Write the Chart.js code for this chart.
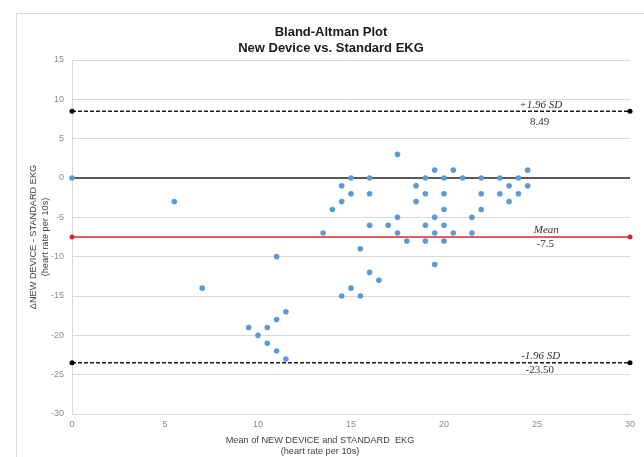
<!DOCTYPE html>
<html>
<head>
<meta charset="utf-8">
<script src="https://cdn.jsdelivr.net/npm/chart.js@4/dist/chart.umd.min.js"></script>
<style>
  html, body { margin: 0; padding: 0; background: #fff; }
  #wrap { width: 644px; height: 457px; position: relative; }
</style>
</head>
<body>
<div id="wrap"><canvas id="c" width="644" height="457"></canvas></div>
<script>
// ---- data ----
const titleLines = ["Bland-Altman Plot", "New Device vs. Standard EKG"];
const xTitleLines = ["Mean of NEW DEVICE and STANDARD  EKG", "(heart rate per 10s)"];
const yTitleLines = ["\u0394NEW DEVICE - STANDARD EKG", "(heart rate per 10s)"];

const meanValues = [
  0, 5.5, 7, 9.5, 10, 10.5, 10.5, 11, 11, 11, 11.5, 11.5,
  13.5, 14, 14.5, 14.5, 14.5, 15, 15, 15, 15.5, 15.5,
  16, 16, 16, 16, 16.5, 17, 17.5, 17.5, 17.5, 18,
  18.5, 18.5, 19, 19, 19, 19, 19.5, 19.5, 19.5, 19.5,
  20, 20, 20, 20, 20, 20.5, 20.5, 21, 21.5, 21.5,
  22, 22, 22, 23, 23, 23.5, 23.5, 24, 24, 24.5, 24.5
];
const diffValues = [
  0, -3, -14, -19, -20, -19, -21, -10, -18, -22, -17, -23,
  -7, -4, -1, -3, -15, 0, -2, -14, -9, -15,
  0, -2, -6, -12, -13, -6, 3, -5, -7, -8,
  -1, -3, 0, -2, -6, -8, 1, -5, -7, -11,
  0, -2, -4, -6, -8, 1, -7, 0, -5, -7,
  0, -2, -4, 0, -2, -1, -3, 0, -2, 1, -1
];

const meanDiff = -7.5;
const upperLoA = 8.49;
const lowerLoA = -23.50;
const lineSpan = [0, 30];

const xMin = 0, xMax = 30, xStep = 5;
const yMin = -30, yMax = 15, yStep = 5;

const refLabels = [
  { value: upperLoA, top: "+1.96 SD", bottom: "8.49" },
  { value: meanDiff, top: "Mean", bottom: "-7.5" },
  { value: lowerLoA, top: "-1.96 SD", bottom: "-23.50" }
];

// ---- build datasets ----
const scatterPts = meanValues.map((m, i) => ({ x: m, y: diffValues[i] }));
const hLine = (v) => lineSpan.map(x => ({ x: x, y: v }));

const decorPlugin = {
  id: 'decor',
  beforeDraw(chart) {
    const ctx = chart.ctx;
    ctx.save();
    ctx.fillStyle = '#ffffff';
    ctx.fillRect(0, 0, chart.width, chart.height);
    ctx.strokeStyle = '#d9d9d9';
    ctx.lineWidth = 1;
    ctx.strokeRect(16.5, 13.5, chart.width + 10, chart.height + 10);
    ctx.restore();
  },
  afterDraw(chart) {
    const ctx = chart.ctx;
    const xs = chart.scales.x, ys = chart.scales.y;
    ctx.save();
    // title
    ctx.fillStyle = '#1a1a1a';
    ctx.font = 'bold 13px "Liberation Sans", Arial, sans-serif';
    ctx.textAlign = 'center';
    ctx.textBaseline = 'middle';
    ctx.fillText(titleLines[0], 331, 32);
    ctx.fillText(titleLines[1], 331, 48.5);
    // x axis title
    ctx.fillStyle = '#404040';
    ctx.font = '9.2px "Liberation Sans", Arial, sans-serif';
    ctx.fillText(xTitleLines[0], 320, 440);
    ctx.fillText(xTitleLines[1], 320, 451.5);
    // y axis title
    ctx.save();
    ctx.translate(33, 237);
    ctx.rotate(-Math.PI / 2);
    ctx.fillText(yTitleLines[0], 0, 0);
    ctx.restore();
    ctx.save();
    ctx.translate(45.5, 237);
    ctx.rotate(-Math.PI / 2);
    ctx.fillText(yTitleLines[1], 0, 0);
    ctx.restore();
    // reference line labels
    ctx.fillStyle = '#333333';
    refLabels.forEach((l, i) => {
      const py = ys.getPixelForValue(l.value);
      const px = xs.getPixelForValue(i === 1 ? 25.5 : 25.2);
      ctx.font = 'italic 11px "Liberation Serif", "Times New Roman", serif';
      ctx.fillText(l.top, px, py - 6.5);
      ctx.font = '11px "Liberation Serif", "Times New Roman", serif';
      ctx.fillText(l.bottom, px - 1, py + (i === 0 ? 10.5 : 7.5));
    });
    ctx.restore();
  }
};

new Chart(document.getElementById('c'), {
  type: 'scatter',
  data: {
    datasets: [
      {
        label: 'Differences',
        data: scatterPts,
        backgroundColor: '#5b9bd5',
        borderColor: '#5b9bd5',
        pointRadius: 2.8,
        pointBorderWidth: 0,
        clip: false,
        order: 0
      },
      {
        label: 'Zero',
        type: 'line',
        data: hLine(0),
        borderColor: '#595959',
        borderWidth: 2.2,
        pointRadius: 0,
        clip: false,
        order: 3
      },
      {
        label: 'Mean',
        type: 'line',
        data: hLine(meanDiff),
        borderColor: '#d9262b',
        backgroundColor: '#d9262b',
        borderWidth: 1.5,
        pointRadius: 2.5,
        pointBorderWidth: 0,
        clip: false,
        order: 1
      },
      {
        label: '+1.96 SD',
        type: 'line',
        data: hLine(upperLoA),
        borderColor: '#1a1a1a',
        backgroundColor: '#000000',
        borderWidth: 1.5,
        borderDash: [4, 2],
        pointRadius: 2.5,
        pointBorderWidth: 0,
        clip: false,
        order: 2
      },
      {
        label: '-1.96 SD',
        type: 'line',
        data: hLine(lowerLoA),
        borderColor: '#1a1a1a',
        backgroundColor: '#000000',
        borderWidth: 1.5,
        borderDash: [4, 2],
        pointRadius: 2.5,
        pointBorderWidth: 0,
        clip: false,
        order: 2
      }
    ]
  },
  options: {
    responsive: false,
    animation: false,
    events: [],
    layout: { autoPadding: false, padding: { top: 60, right: 14, bottom: 0, left: 0 } },
    plugins: { legend: { display: false }, tooltip: { enabled: false }, title: { display: false } },
    scales: {
      x: {
        type: 'linear',
        min: xMin, max: xMax,
        ticks: { stepSize: xStep, color: '#8c8c8c', font: { size: 9, family: '"Liberation Sans", Arial, sans-serif' }, padding: 5, maxRotation: 0 },
        grid: { display: false, drawTicks: false },
        border: { display: true, color: '#d9d9d9' },
        afterFit(s) { s.height = 43; }
      },
      y: {
        type: 'linear',
        min: yMin, max: yMax,
        ticks: { stepSize: yStep, color: '#8c8c8c', font: { size: 9, family: '"Liberation Sans", Arial, sans-serif' }, padding: 8 },
        grid: { color: '#d9d9d9', lineWidth: 1, drawTicks: false },
        border: { display: true, color: '#d9d9d9' },
        afterFit(s) { s.width = 72; }
      }
    }
  },
  plugins: [decorPlugin]
});
</script>
</body>
</html>
